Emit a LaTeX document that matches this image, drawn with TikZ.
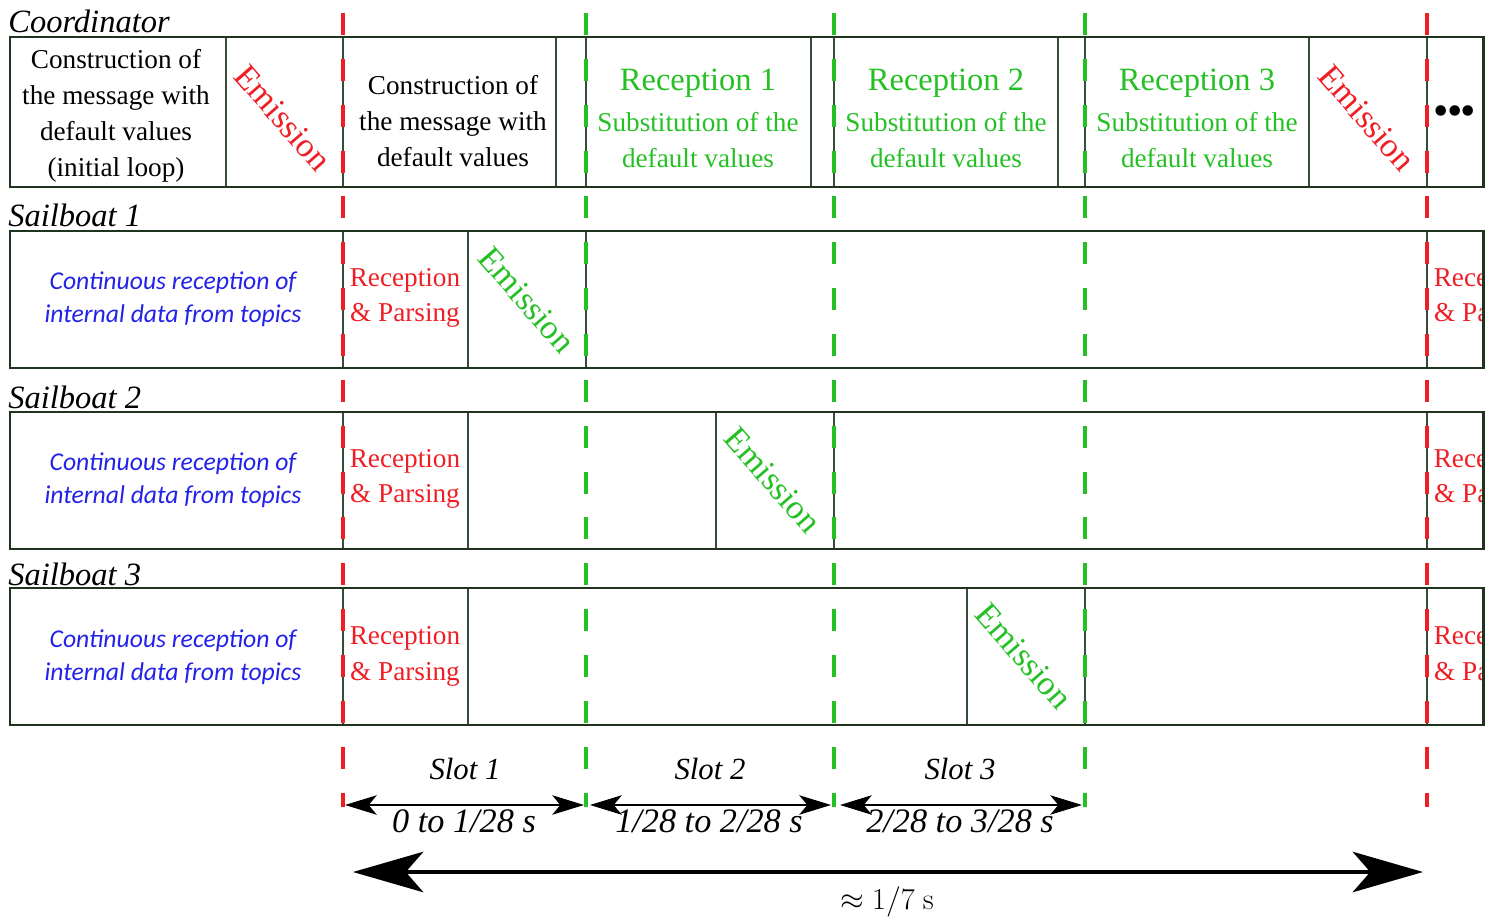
\documentclass[tikz,border=0pt]{standalone}
\usepackage[no-math]{fontspec}
\setmainfont{Liberation Serif}
\newfontfamily\carlito{Carlito}
\usetikzlibrary{arrows.meta}
\definecolor{framec}{RGB}{30,52,30}
\definecolor{sepc}{RGB}{55,75,55}
\definecolor{tred}{RGB}{238,30,36}
\definecolor{tgreen}{RGB}{36,192,36}
\definecolor{tblue}{RGB}{34,34,232}

\begin{document}
\begin{tikzpicture}[x=0.02cm,y=-0.02cm,
  frame/.style={draw=framec,line width=1.7pt},
  sep/.style={draw=sepc,line width=0.8pt},
  tick/.style={line width=2.8pt,dash pattern=on 12.5pt off 13.6pt},
  redtick/.style={tick,draw=tred},
  greentick/.style={tick,draw=tgreen},
  lane/.style={font=\itshape\fontsize{18.5}{21}\selectfont,anchor=base west,inner sep=0pt},
  body/.style={font=\fontsize{15.5}{20.4}\selectfont,align=center,inner sep=0pt},
  rtitle/.style={font=\fontsize{18.5}{22}\selectfont,text=tgreen,inner sep=0pt},
  rbody/.style={body,text=tgreen},
  emis/.style={font=\fontsize{19.5}{22}\selectfont,rotate=-49,inner sep=0pt},
  topic/.style={font=\carlito\itshape\fontsize{14.6}{18.7}\selectfont,text=tblue,align=center,inner sep=0pt},
  parse/.style={body,text=tred},
  slotlbl/.style={font=\itshape\fontsize{17.5}{20}\selectfont,inner sep=0pt},
  rangelbl/.style={font=\itshape\fontsize{19.5}{22}\selectfont,inner sep=0pt},
  slotarrow/.style={line width=1.4pt,
    {Stealth[length=18pt,width=11pt,inset=4.5pt]}-{Stealth[length=18pt,width=11pt,inset=4.5pt]}},
  bigarrow/.style={line width=2.3pt,
    {Stealth[length=40pt,width=23pt,inset=10pt]}-{Stealth[length=40pt,width=23pt,inset=10pt]}}
]
\useasboundingbox (0,0) rectangle (1496,918);

% ---------- lane titles ----------
\node[lane] (lc) at (8,33) {Coordinator};
\node[lane] (l1) at (8,227) {Sailboat 1};
\node[lane] (l2) at (8,408) {Sailboat 2};
\node[lane] (l3) at (8,585) {Sailboat 3};

% ---------- coordinator row ----------
\node[body] (c0) at (116,116) {Construction of\\the message with\\default values\\(initial loop)};
\node[emis,text=tred] (ce0) at (283,118) {Emission};
\node[body] (c1) at (453,121) {Construction of\\the message with\\default values};
\node[rtitle] (r1) at (698,83) {Reception 1};
\node[rbody] (s1) at (698,140) {Substitution of the\\default values};
\node[rtitle] (r2) at (946,83) {Reception 2};
\node[rbody] (s2) at (946,140) {Substitution of the\\default values};
\node[rtitle] (r3) at (1197,83) {Reception 3};
\node[rbody] (s3) at (1197,140) {Substitution of the\\default values};
\node[emis,text=tred] (ce1) at (1367,118) {Emission};
\node[font=\fontsize{25}{26}\selectfont,inner sep=0pt] (more) at (1455,116) {\textbullet\kern-1pt\textbullet\kern-1pt\textbullet};

\draw[sep] (226,37) -- (226,187) (343,37) -- (343,187) (556,37) -- (556,187)
  (586,37) -- (586,187) (811,37) -- (811,187) (834,37) -- (834,187)
  (1058,37) -- (1058,187) (1085,37) -- (1085,187) (1309,37) -- (1309,187)
  (1427,37) -- (1427,187);
\draw[frame] (10,37) rectangle (1483,187);

% ---------- sailboat rows ----------
\node[topic] (t1) at (173,299) {Continuous reception of\\internal data from topics};
\node[parse] (p1) at (405,298) {Reception\\\& Parsing};
\node[emis,text=tgreen] (e1) at (527,300) {Emission};
\begin{scope}
  \clip (1427,231) rectangle (1483,368);
  \node[parse] (q1) at (1489,298) {Reception\\\& Parsing};
\end{scope}
\draw[sep] (343,231) -- (343,368) (468,231) -- (468,368) (586,231) -- (586,368)
  (1427,231) -- (1427,368);
\draw[frame] (10,231) rectangle (1483,368);

\node[topic] (t2) at (173,480) {Continuous reception of\\internal data from topics};
\node[parse] (p2) at (405,479) {Reception\\\& Parsing};
\node[emis,text=tgreen] (e2) at (773,480) {Emission};
\begin{scope}
  \clip (1427,412) rectangle (1483,549);
  \node[parse] (q2) at (1489,479) {Reception\\\& Parsing};
\end{scope}
\draw[sep] (343,412) -- (343,549) (468,412) -- (468,549) (716,412) -- (716,549)
  (834,412) -- (834,549) (1427,412) -- (1427,549);
\draw[frame] (10,412) rectangle (1483,549);

\node[topic] (t3) at (173,657) {Continuous reception of\\internal data from topics};
\node[parse] (p3) at (405,656) {Reception\\\& Parsing};
\node[emis,text=tgreen] (e3) at (1024,656) {Emission};
\begin{scope}
  \clip (1427,588) rectangle (1483,725);
  \node[parse] (q3) at (1489,656) {Reception\\\& Parsing};
\end{scope}
\draw[sep] (343,588) -- (343,725) (468,588) -- (468,725) (967,588) -- (967,725)
  (1085,588) -- (1085,725) (1427,588) -- (1427,725);
\draw[frame] (10,588) rectangle (1483,725);

% ---------- time marks ----------
\coordinate (m0t) at (343,13);  \coordinate (m0b) at (343,807);
\coordinate (m1t) at (586,13);  \coordinate (m1b) at (586,807);
\coordinate (m2t) at (834,13);  \coordinate (m2b) at (834,807);
\coordinate (m3t) at (1085,13); \coordinate (m3b) at (1085,807);
\coordinate (m4t) at (1427,13); \coordinate (m4b) at (1427,807);
\draw[redtick] (m0t) -- (m0b);
\draw[greentick] (m1t) -- (m1b);
\draw[greentick] (m2t) -- (m2b);
\draw[greentick] (m3t) -- (m3b);
\draw[redtick] (m4t) -- (m4b);

% ---------- slots ----------
\coordinate (a0) at (345,805);
\coordinate (a1) at (584,805);
\coordinate (a2) at (590,805);
\coordinate (a3) at (831,805);
\coordinate (a4) at (840,805);
\coordinate (a5) at (1082,805);
\draw[slotarrow] (a0) -- (a1);
\draw[slotarrow] (a2) -- (a3);
\draw[slotarrow] (a4) -- (a5);
\node[slotlbl,anchor=base] (sl1) at (465,779) {Slot 1};
\node[slotlbl,anchor=base] (sl2) at (710,779) {Slot 2};
\node[slotlbl,anchor=base] (sl3) at (960,779) {Slot 3};
\node[rangelbl,anchor=base] (rg1) at (464,832) {0 to 1/28 s};
\node[rangelbl,anchor=base] (rg2) at (709,832) {1/28 to 2/28 s};
\node[rangelbl,anchor=base] (rg3) at (960,832) {2/28 to 3/28 s};

% ---------- period ----------
\coordinate (pL) at (353,872);
\coordinate (pR) at (1423,872);
\draw[bigarrow] (pL) -- (pR);
\node[font=\fontsize{18.5}{22}\selectfont,inner sep=0pt,anchor=base] (per) at (887,909) {$\approx 1/7\ \mathrm{s}$};
\end{tikzpicture}
\end{document}
